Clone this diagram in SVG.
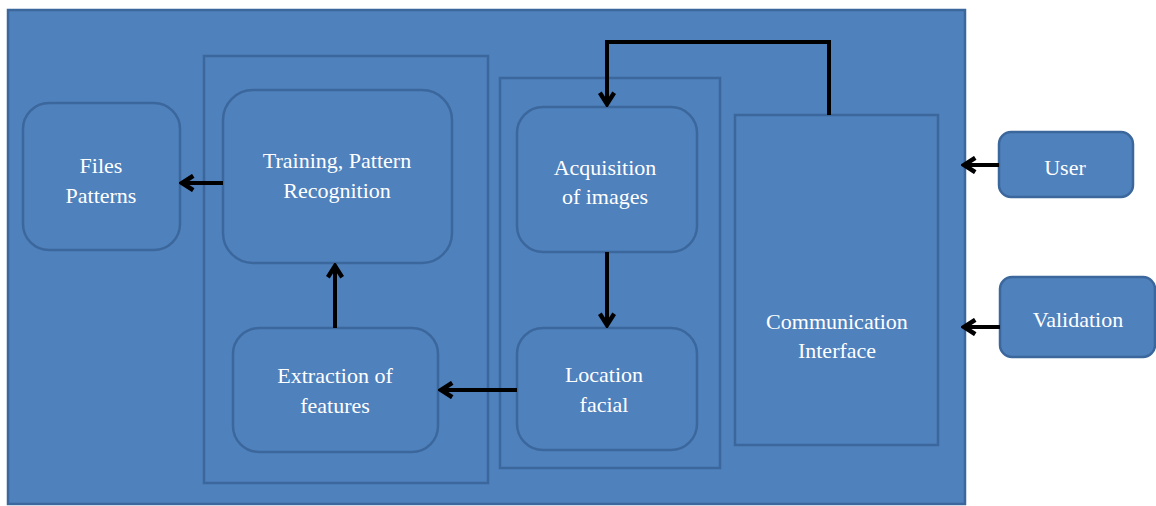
<svg xmlns="http://www.w3.org/2000/svg" width="1156" height="506" viewBox="0 0 1156 506">
  <style>
    .panel { fill: #4f81bd; stroke: #3b679c; stroke-width: 2.5; }
    .node { fill: #4f81bd; stroke: #3b679c; stroke-width: 2.5; }
    .lbl { font-family: "Liberation Serif", "DejaVu Serif", "Times New Roman", Times, serif; font-size: 22px; fill: #ffffff; text-anchor: middle; }
    .wire { fill: none; stroke: #000000; stroke-width: 4; marker-end: url(#chev); }
  </style>
  <defs>
    <marker id="chev" viewBox="0 0 12 12" refX="10" refY="6" markerWidth="4.5" markerHeight="4.5" orient="auto" markerUnits="strokeWidth">
      <path d="M2.5,1.2 L10,6 L2.5,10.8" fill="none" stroke="#000000" stroke-width="3" stroke-linejoin="miter"/>
    </marker>
  </defs>
  <rect width="1156" height="506" fill="#ffffff"/>

  <!-- system boundary and sub-panels -->
  <g id="system">
    <rect class="panel" x="8" y="10" width="957" height="494" stroke="#385d8a" stroke-width="3"/>
    <rect class="panel" x="204" y="56" width="284" height="427"/>
    <rect class="panel" x="500" y="78" width="220" height="390"/>
  </g>

  <g id="files-patterns">
    <rect class="node" x="23" y="103" width="157" height="147" rx="26"/>
    <text class="lbl" x="101" y="173">Files</text>
    <text class="lbl" x="101" y="203">Patterns</text>
  </g>

  <g id="training">
    <rect class="node" x="223" y="90" width="229" height="173" rx="30"/>
    <text class="lbl" x="337" y="168">Training, Pattern</text>
    <text class="lbl" x="337" y="198">Recognition</text>
  </g>

  <g id="extraction">
    <rect class="node" x="233" y="328" width="205" height="124" rx="26"/>
    <text class="lbl" x="335" y="383">Extraction of</text>
    <text class="lbl" x="335" y="413">features</text>
  </g>

  <g id="acquisition">
    <rect class="node" x="517" y="107" width="180" height="145" rx="26"/>
    <text class="lbl" x="605" y="175">Acquisition</text>
    <text class="lbl" x="605" y="204">of images</text>
  </g>

  <g id="location">
    <rect class="node" x="517" y="328" width="180" height="122" rx="26"/>
    <text class="lbl" x="604" y="382">Location</text>
    <text class="lbl" x="604" y="412">facial</text>
  </g>

  <g id="communication">
    <rect class="node" x="735" y="115" width="203" height="330"/>
    <text class="lbl" x="837" y="329">Communication</text>
    <text class="lbl" x="837" y="358">Interface</text>
  </g>

  <g id="user">
    <rect class="node" x="999" y="132" width="134" height="65" rx="12"/>
    <text class="lbl" x="1065" y="175">User</text>
  </g>

  <g id="validation">
    <rect class="node" x="1000" y="277" width="155" height="80" rx="12"/>
    <text class="lbl" x="1078" y="327">Validation</text>
  </g>

  <g id="connectors">
    <path class="wire" d="M223,183 L182,183"/>
    <path class="wire" d="M335,328 L335,266"/>
    <path class="wire" d="M517,390 L441,390"/>
    <path class="wire" d="M607,252 L607,325"/>
    <path class="wire" d="M829,115 L829,42 L607,42 L607,104"/>
    <path class="wire" d="M999,165 L964,165"/>
    <path class="wire" d="M1000,327 L964,327"/>
  </g>
</svg>
